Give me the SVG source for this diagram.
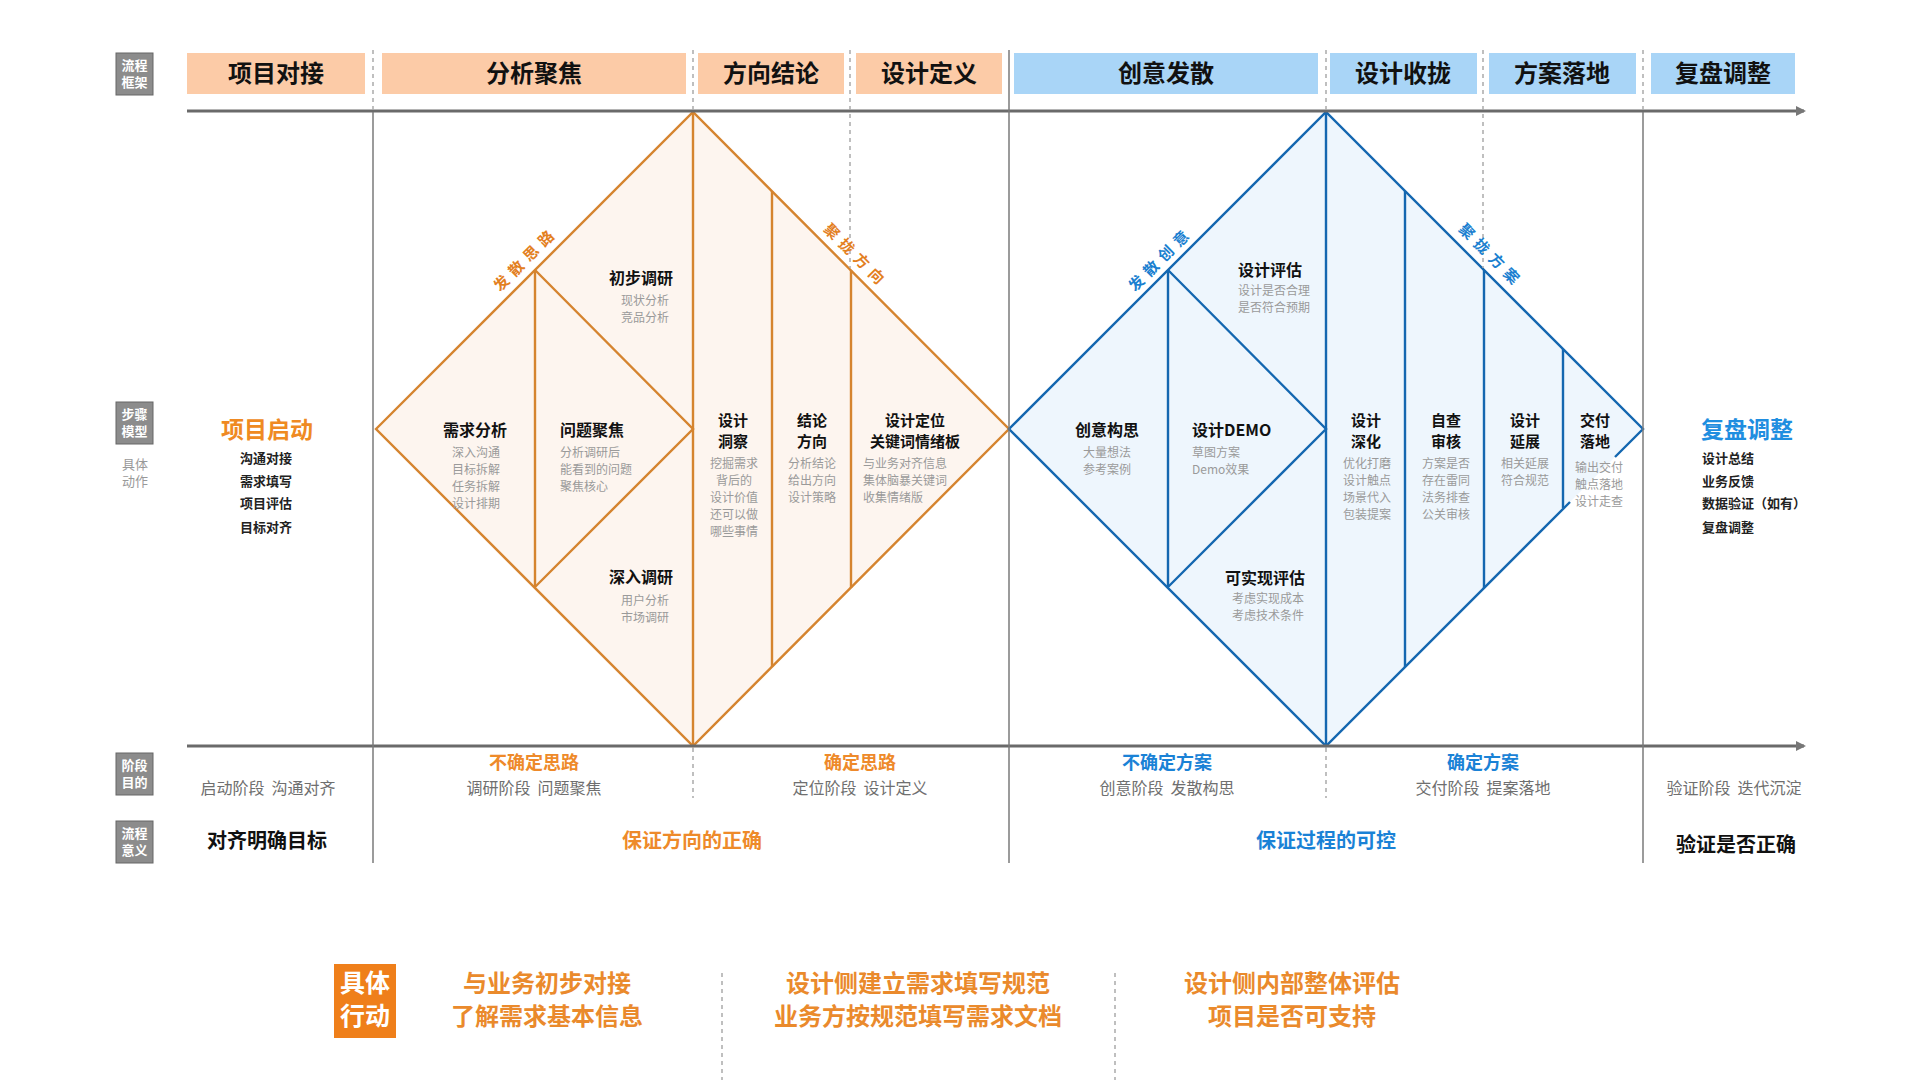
<svg xmlns="http://www.w3.org/2000/svg" width="1920" height="1080" viewBox="0 0 1920 1080">
<defs>
<marker id="arr" markerWidth="10" markerHeight="10" refX="8" refY="5" orient="auto" markerUnits="userSpaceOnUse">
<path d="M0,0 L10,5 L0,10 Z" fill="#777"/>
</marker>
<style>
text{font-family:"Noto Sans CJK SC","Noto Sans",sans-serif;}
.hdrO{fill:#fccba7;}
.hdrB{fill:#a9d5f7;}
.hdrT{font-size:24px;font-weight:700;fill:#111;text-anchor:middle;}
.gbox{fill:#8c8c8c;stroke:#666;stroke-width:1;}
.gboxT{font-size:13px;font-weight:700;fill:#fff;text-anchor:middle;}
.axis{stroke:#6a6a6a;stroke-width:3;fill:none;}
.vsolid{stroke:#7a7a7a;stroke-width:1.5;fill:none;}
.vdash{stroke:#aaa;stroke-width:1.5;stroke-dasharray:4 4;fill:none;}
.oFill{fill:#fdf5ef;}
.bFill{fill:#eef6fd;}
.oLine{stroke:#d5842f;stroke-width:2.4;fill:none;}
.bLine{stroke:#1467b0;stroke-width:2.4;fill:none;}
.t{font-size:16px;font-weight:700;fill:#111;}
.t2{font-size:15px;font-weight:700;fill:#111;text-anchor:middle;}
.s{font-size:12px;fill:#9a9a9a;}
.c{text-anchor:middle;}
.edgeO{font-size:15px;font-weight:700;fill:#e3801f;letter-spacing:6px;text-anchor:middle;dominant-baseline:central;}
.edgeB{font-size:15px;font-weight:700;fill:#1a7fd0;letter-spacing:6px;text-anchor:middle;dominant-baseline:central;}
.bigO{font-size:23px;font-weight:700;fill:#ef8a22;text-anchor:middle;}
.bigB{font-size:23px;font-weight:700;fill:#1f8ee0;text-anchor:middle;}
.li{font-size:13px;font-weight:700;fill:#222;}
.gl{font-size:13px;fill:#999;text-anchor:middle;}
.stO{font-size:18px;font-weight:700;fill:#ee8a2a;text-anchor:middle;}
.stB{font-size:18px;font-weight:700;fill:#1a82d6;text-anchor:middle;}
.stG{font-size:16px;fill:#6f6f6f;text-anchor:middle;white-space:pre;}
.mK{font-size:20px;font-weight:700;fill:#111;text-anchor:middle;}
.mO{font-size:20px;font-weight:700;fill:#ee8a2a;text-anchor:middle;}
.mB{font-size:20px;font-weight:700;fill:#1a82d6;text-anchor:middle;}
.act{font-size:24px;font-weight:700;fill:#ea8a2c;text-anchor:middle;}
</style>
</defs>
<rect width="1920" height="1080" fill="#fff"/>

<g id="headers">
<rect class="hdrO" x="187" y="53" width="178" height="41"/>
<text class="hdrT" x="276" y="82">项目对接</text>
<rect class="hdrO" x="382" y="53" width="304" height="41"/>
<text class="hdrT" x="534" y="82">分析聚焦</text>
<rect class="hdrO" x="698" y="53" width="146" height="41"/>
<text class="hdrT" x="771" y="82">方向结论</text>
<rect class="hdrO" x="856" y="53" width="146" height="41"/>
<text class="hdrT" x="929" y="82">设计定义</text>
<rect class="hdrB" x="1014" y="53" width="304" height="41"/>
<text class="hdrT" x="1166" y="82">创意发散</text>
<rect class="hdrB" x="1330" y="53" width="147" height="41"/>
<text class="hdrT" x="1403" y="82">设计收拢</text>
<rect class="hdrB" x="1489" y="53" width="147" height="41"/>
<text class="hdrT" x="1562" y="82">方案落地</text>
<rect class="hdrB" x="1651" y="53" width="144" height="41"/>
<text class="hdrT" x="1723" y="82">复盘调整</text>
</g>

<g id="row-labels">
<rect class="gbox" x="116" y="53" width="37" height="42"/>
<text class="gboxT" x="134.5" y="70">流程</text>
<text class="gboxT" x="134.5" y="87">框架</text>
<rect class="gbox" x="116" y="402" width="37" height="42"/>
<text class="gboxT" x="134.5" y="419">步骤</text>
<text class="gboxT" x="134.5" y="436">模型</text>
<text class="gl" x="135" y="469">具体</text>
<text class="gl" x="135" y="486">动作</text>
<rect class="gbox" x="116" y="753" width="37" height="42"/>
<text class="gboxT" x="134.5" y="770">阶段</text>
<text class="gboxT" x="134.5" y="787">目的</text>
<rect class="gbox" x="116" y="821" width="37" height="42"/>
<text class="gboxT" x="134.5" y="838">流程</text>
<text class="gboxT" x="134.5" y="855">意义</text>
</g>

<g id="orange-diamond">
<polygon class="oFill" points="376,429 693,112 1009,429 693,746"/>
<polygon class="oLine" points="376,429 693,112 1009,429 693,746"/>
<polyline class="oLine" points="535,270 693,429 535,587"/>
<line class="oLine" x1="535" y1="270" x2="535" y2="587"/>
<line class="oLine" x1="693" y1="112" x2="693" y2="746"/>
<line class="oLine" x1="772" y1="191" x2="772" y2="667"/>
<line class="oLine" x1="851" y1="270" x2="851" y2="588"/>
</g>
<g id="blue-diamond">
<polygon class="bFill" points="1009,429 1326,112 1643,429 1326,746"/>
<path class="bLine" d="M1615,457 L1643,429 L1326,112 L1009,429 L1326,746 L1570,502"/>
<polyline class="bLine" points="1168,270 1326,429 1168,587"/>
<line class="bLine" x1="1168" y1="270" x2="1168" y2="587"/>
<line class="bLine" x1="1326" y1="112" x2="1326" y2="746"/>
<line class="bLine" x1="1405" y1="191" x2="1405" y2="667"/>
<line class="bLine" x1="1484" y1="270" x2="1484" y2="588"/>
<line class="bLine" x1="1563" y1="349" x2="1563" y2="508"/>
</g>

<g id="connectors">
<line class="axis" x1="187" y1="111" x2="1804" y2="111" marker-end="url(#arr)"/>
<line class="axis" x1="187" y1="746" x2="1804" y2="746" marker-end="url(#arr)"/>
<line class="vdash" x1="373" y1="50" x2="373" y2="110"/>
<line class="vsolid" x1="373" y1="112" x2="373" y2="863"/>
<line class="vdash" x1="693" y1="50" x2="693" y2="110"/>
<line class="vdash" x1="850" y1="50" x2="850" y2="268"/>
<line class="vsolid" x1="1009" y1="50" x2="1009" y2="863"/>
<line class="vdash" x1="1326" y1="50" x2="1326" y2="110"/>
<line class="vdash" x1="1483" y1="50" x2="1483" y2="268"/>
<line class="vdash" x1="1643" y1="50" x2="1643" y2="110"/>
<line class="vsolid" x1="1643" y1="112" x2="1643" y2="863"/>
<line class="vdash" x1="693" y1="748" x2="693" y2="798"/>
<line class="vdash" x1="1326" y1="748" x2="1326" y2="798"/>
<line class="vdash" x1="722" y1="973" x2="722" y2="1080"/>
<line class="vdash" x1="1115" y1="973" x2="1115" y2="1080"/>
</g>

<g id="edge-labels">
<text class="edgeO" transform="translate(525,258) rotate(-45)">发散思路</text>
<text class="edgeO" transform="translate(857,255) rotate(45)">聚拢方向</text>
<text class="edgeB" transform="translate(1160,258) rotate(-45)">发散创意</text>
<text class="edgeB" transform="translate(1492,255) rotate(45)">聚拢方案</text>
</g>

<g id="node-start">
<text class="bigO" x="267" y="438">项目启动</text>
<text class="li c" x="266" y="463">沟通对接</text>
<text class="li c" x="266" y="486">需求填写</text>
<text class="li c" x="266" y="508">项目评估</text>
<text class="li c" x="266" y="532">目标对齐</text>
</g>

<g id="node-xqfx">
<text class="t c" x="475" y="436">需求分析</text>
<text class="s c" x="476" y="457">深入沟通</text>
<text class="s c" x="476" y="474">目标拆解</text>
<text class="s c" x="476" y="491">任务拆解</text>
<text class="s c" x="476" y="508">设计排期</text>
</g>
<g id="node-wtjj">
<text class="t" x="560" y="436">问题聚焦</text>
<text class="s" x="560" y="457">分析调研后</text>
<text class="s" x="560" y="474">能看到的问题</text>
<text class="s" x="560" y="491">聚焦核心</text>
</g>
<g id="node-cbdy">
<text class="t c" x="641" y="284">初步调研</text>
<text class="s c" x="645" y="305">现状分析</text>
<text class="s c" x="645" y="322">竞品分析</text>
</g>
<g id="node-srdy">
<text class="t c" x="641" y="583">深入调研</text>
<text class="s c" x="645" y="605">用户分析</text>
<text class="s c" x="645" y="622">市场调研</text>
</g>
<g id="node-sjdc">
<text class="t2" x="733" y="426">设计</text>
<text class="t2" x="733" y="447">洞察</text>
<text class="s c" x="734" y="468">挖掘需求</text>
<text class="s c" x="734" y="485">背后的</text>
<text class="s c" x="734" y="502">设计价值</text>
<text class="s c" x="734" y="519">还可以做</text>
<text class="s c" x="734" y="536">哪些事情</text>
</g>
<g id="node-jlfx">
<text class="t2" x="812" y="426">结论</text>
<text class="t2" x="812" y="447">方向</text>
<text class="s c" x="812" y="468">分析结论</text>
<text class="s c" x="812" y="485">给出方向</text>
<text class="s c" x="812" y="502">设计策略</text>
</g>
<g id="node-sjdw">
<text class="t2" x="915" y="426">设计定位</text>
<text class="t2" x="915" y="447">关键词情绪板</text>
<text class="s" x="863" y="468">与业务对齐信息</text>
<text class="s" x="863" y="485">集体脑暴关键词</text>
<text class="s" x="863" y="502">收集情绪版</text>
</g>

<g id="node-cygs">
<text class="t c" x="1107" y="436">创意构思</text>
<text class="s c" x="1107" y="457">大量想法</text>
<text class="s c" x="1107" y="474">参考案例</text>
</g>
<g id="node-demo">
<text class="t" x="1192" y="436">设计DEMO</text>
<text class="s" x="1192" y="457">草图方案</text>
<text class="s" x="1192" y="474">Demo效果</text>
</g>
<g id="node-sjpg">
<text class="t" x="1238" y="276">设计评估</text>
<text class="s" x="1238" y="295">设计是否合理</text>
<text class="s" x="1238" y="312">是否符合预期</text>
</g>
<g id="node-kssx">
<text class="t c" x="1265" y="584">可实现评估</text>
<text class="s c" x="1268" y="603">考虑实现成本</text>
<text class="s c" x="1268" y="620">考虑技术条件</text>
</g>
<g id="node-sjsh">
<text class="t2" x="1366" y="426">设计</text>
<text class="t2" x="1366" y="447">深化</text>
<text class="s c" x="1367" y="468">优化打磨</text>
<text class="s c" x="1367" y="485">设计触点</text>
<text class="s c" x="1367" y="502">场景代入</text>
<text class="s c" x="1367" y="519">包装提案</text>
</g>
<g id="node-zcsh">
<text class="t2" x="1446" y="426">自查</text>
<text class="t2" x="1446" y="447">审核</text>
<text class="s c" x="1446" y="468">方案是否</text>
<text class="s c" x="1446" y="485">存在雷同</text>
<text class="s c" x="1446" y="502">法务排查</text>
<text class="s c" x="1446" y="519">公关审核</text>
</g>
<g id="node-sjyz">
<text class="t2" x="1525" y="426">设计</text>
<text class="t2" x="1525" y="447">延展</text>
<text class="s c" x="1525" y="468">相关延展</text>
<text class="s c" x="1525" y="485">符合规范</text>
</g>
<g id="node-jfld">
<text class="t2" x="1595" y="426">交付</text>
<text class="t2" x="1595" y="447">落地</text>
<text class="s c" x="1599" y="472">输出交付</text>
<text class="s c" x="1599" y="489">触点落地</text>
<text class="s c" x="1599" y="506">设计走查</text>
</g>

<g id="node-review">
<text class="bigB" x="1747" y="438">复盘调整</text>
<text class="li" x="1702" y="463">设计总结</text>
<text class="li" x="1702" y="486">业务反馈</text>
<text class="li" x="1702" y="508">数据验证（如有）</text>
<text class="li" x="1702" y="532">复盘调整</text>
</g>

<g id="stage-goals">
<text class="stG" x="268" y="794" xml:space="preserve">启动阶段  沟通对齐</text>
<text class="stO" x="534" y="769">不确定思路</text>
<text class="stG" x="534" y="794" xml:space="preserve">调研阶段  问题聚焦</text>
<text class="stO" x="860" y="769">确定思路</text>
<text class="stG" x="860" y="794" xml:space="preserve">定位阶段  设计定义</text>
<text class="stB" x="1167" y="769">不确定方案</text>
<text class="stG" x="1167" y="794" xml:space="preserve">创意阶段  发散构思</text>
<text class="stB" x="1483" y="769">确定方案</text>
<text class="stG" x="1483" y="794" xml:space="preserve">交付阶段  提案落地</text>
<text class="stG" x="1734" y="794" xml:space="preserve">验证阶段  迭代沉淀</text>
</g>

<g id="meanings">
<text class="mK" x="267" y="848">对齐明确目标</text>
<text class="mO" x="692" y="848">保证方向的正确</text>
<text class="mB" x="1326" y="848">保证过程的可控</text>
<text class="mK" x="1736" y="852">验证是否正确</text>
</g>

<g id="actions">
<rect x="334" y="964" width="62" height="74" fill="#ef7f1a"/>
<text x="365" y="992" style="font-size:25px;font-weight:700;fill:#fff;text-anchor:middle">具体</text>
<text x="365" y="1025" style="font-size:25px;font-weight:700;fill:#fff;text-anchor:middle">行动</text>
<text class="act" x="547" y="992">与业务初步对接</text>
<text class="act" x="547" y="1025">了解需求基本信息</text>
<text class="act" x="918" y="992">设计侧建立需求填写规范</text>
<text class="act" x="918" y="1025">业务方按规范填写需求文档</text>
<text class="act" x="1292" y="992">设计侧内部整体评估</text>
<text class="act" x="1292" y="1025">项目是否可支持</text>
</g>
</svg>
